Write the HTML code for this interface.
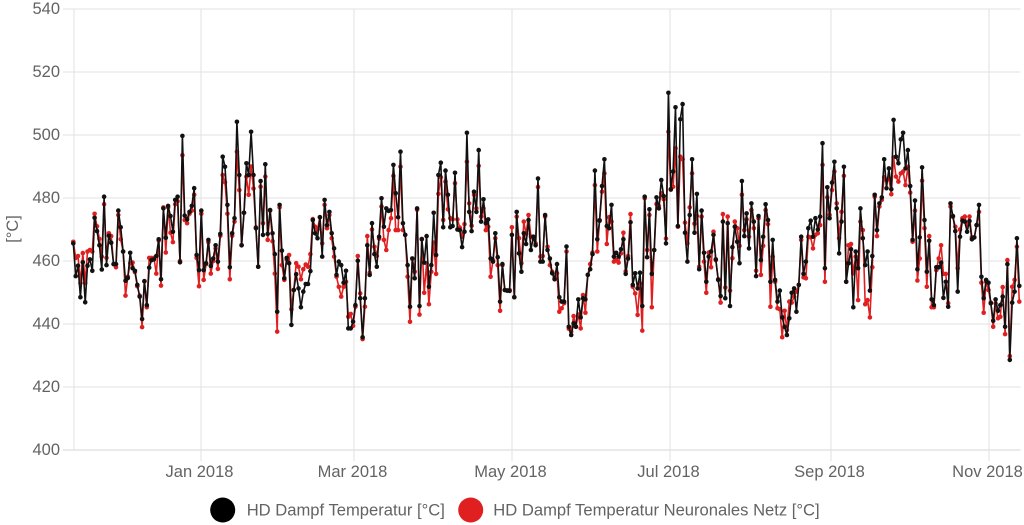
<!DOCTYPE html>
<html><head><meta charset="utf-8">
<style>
html,body{margin:0;padding:0;background:#fff;}
svg{display:block;}
text{font-family:"Liberation Sans",Arial,sans-serif;fill:#636363;}
</style></head>
<body>
<svg id="c" width="1024" height="525" viewBox="0 0 1024 525" xmlns="http://www.w3.org/2000/svg">
<g id="grid" stroke="#e2e2e2" stroke-width="1"></g>
<g id="labels" font-size="16.5"></g>
<text x="13" y="229" font-size="16.4" text-anchor="middle" dominant-baseline="central" transform="rotate(-90 13 229)">[°C]</text>
<g id="series"></g>
<circle cx="222.7" cy="510" r="12.5" fill="#000"/>
<text x="246.7" y="510" font-size="16.6" dominant-baseline="central">HD Dampf Temperatur [°C]</text>
<circle cx="470.7" cy="510" r="12.5" fill="#e02020"/>
<text x="493.3" y="510" font-size="16.6" dominant-baseline="central">HD Dampf Temperatur Neuronales Netz [°C]</text>
</svg>
<script>
var B=[465.6,455.2,458.5,448.5,459.6,446.9,458.5,460.5,456.9,473.7,
469.5,465,457.3,480.4,458.7,468,465.8,459,459,476,
470.7,463,453.7,454.6,462.6,457.7,456.9,452.4,448.7,441.6,
453.6,446,457.9,460.3,460.5,461.6,466.9,454.2,476.7,467.4,
477.5,474.3,469.3,479.4,480.4,459.6,499.7,474.4,473.2,475.6,
477.5,483.1,461.9,457.1,476,457.1,459.3,466.7,458.4,460.8,
465,459.8,468.6,493.1,489.9,477.8,458,468.8,473.6,504.2,
487.3,465,475.3,491,487.3,501,487.3,470.4,458.2,485.4,
468.3,490.7,468.6,476.2,468.8,462.2,443.9,477.8,463.3,454.5,
461,459.3,439.7,450.8,455.8,451.3,445.3,450.3,452.7,452.7,
456.8,473,468.8,467.2,473.9,461.4,479.4,471.4,475.6,468.8,
464,455.6,459.8,458.7,453.1,456.9,438.6,438.6,440.7,446,
460.1,448.2,435.8,448.2,465,455.6,472,462.2,458.2,467.7,
479.9,470.9,476.7,475.9,476.2,490.5,481.5,473.9,494.7,472,
468.3,458.7,445.5,460.8,454.5,476.7,445.7,466.9,459.5,467.9,
451.8,458.7,475.3,461.9,487.3,491.2,470.7,488.7,481,470.7,
471.1,488,470,469.8,464.4,469.3,500.7,475.6,469.5,482,
475.6,495.2,472.5,479.6,472,473.2,460.8,459.8,468.8,461.2,
447.1,459,450.8,450.6,450.5,468.3,448.5,475.6,462.4,456.6,
468.8,465.4,473,463.5,467.7,465,486.2,459.8,459.8,474.6,
463.5,460.8,456.1,454.2,459,448.5,447.1,447.1,464.6,439.1,
436.5,440.2,439.1,447.8,442.1,448.2,447.8,455.6,457.4,462.2,
488.7,466.9,472.8,483.8,492.3,471.1,470.4,477.8,461.4,462.6,
461.4,463.7,466.9,455.9,460.8,472.3,452.4,456.1,451.3,456.3,
445.7,480.4,461.2,476.4,455.9,463.5,480.2,476.7,485.7,480.6,
465.6,513.4,482.8,488.4,508.8,471.1,505,509.8,469,459.8,
474.6,492.3,469,481.3,457.4,476,462.6,453.4,461.4,463,
468.3,460.5,454,448.9,472.5,448.2,472,445.7,464.4,470.9,
466.1,459.3,485.4,467.9,475.1,464,478.3,472.5,455.2,474.3,
460.3,467.7,478,473,453.4,466.7,454,447.1,450.6,442.1,
439.1,436.5,441.8,449.9,451.3,443.9,452.4,467.7,455.9,459.8,
470.4,472.8,467.7,473.6,470,474.1,497.4,457.7,483.4,473.6,
484.9,491.5,476.7,462.4,472.5,489.9,453.4,459.3,463.7,445.3,
463,457.7,476.7,467.2,458.7,463,450.6,461.6,481,469.8,
478.3,480.2,492.3,483.1,489.4,482.8,504.8,493.1,491,498.6,
500.7,489.4,495.2,483.8,466.7,479.2,457.4,467.5,489.7,473,
456.6,466.4,447.8,446,458,458,459.5,448.3,453.4,445.5,
478.3,474.3,469.5,450.3,467.7,472.8,472.5,469.3,472.7,466.9,
467.5,471.4,477.8,455,448.2,454,453.1,446.6,441,447.8,
444.2,446,448.7,439.1,459,428.6,446.8,450.3,467.2,452.1];
var R=[466.1,461,461.6,453,462.5,453,463,463.5,463,475,
471,467,461.4,478,461,468.8,467.9,459,458,474.6,
466.9,463,449,455,459.3,459.5,456.5,452,449,439,
453.6,445.3,461,461,461,456,466.5,452.2,477,462.7,
477,469,466,478,479,460,493.6,473,472,475,
476,481,461,452,475,454,459,466,456,460,
464,457.5,468,487.3,485,475,454.2,468,472.5,494.7,
482.5,465,475.3,486.8,481,490,483,470.7,458.2,483.6,
472,486.8,466.7,476,466.3,456,437.6,477,458.7,454,
460.5,461.9,444.7,450.8,459.3,458.2,454.2,457.4,458.9,458.2,
462.2,473.3,470.9,470,473.9,465.6,477.8,470.4,474.6,467.2,
461.4,455,451.8,448.7,451.8,453.4,442.3,443.2,439.4,445.5,
461.6,449.7,435.2,445.5,467.9,456.3,470,464.5,461.6,467.1,
477.3,466.7,463.5,469.8,473.6,487,469.8,469.8,489.9,469.8,
468.3,455,440.7,460.8,456.6,476.3,443,467,449.9,459.3,
446.3,456.6,465.8,455.9,481.3,486.6,473,485.2,476.4,473.6,
473.2,484.7,473.2,470.6,467.7,471.7,491.5,478.3,471.2,481,
476.7,490.2,474.1,476.7,469.8,470.9,455,460.3,467.2,458.7,
444.2,458.7,450.8,450.6,450.8,470.7,448.5,474.1,467.2,459.3,
472.5,468.5,474.6,467.7,467.2,465.6,483.5,461.4,461.6,474.1,
464.5,458.7,456.6,454.5,456.1,443.9,445,446.6,463,438.5,
437.6,442.5,439.1,443,438.6,449.2,443.6,455.6,459,462.7,
484.1,463,473,482,487.8,465.4,473.9,472.5,459.8,460.3,
459.5,462.4,469,456.7,461.6,474.9,451.8,449.7,442.9,452.9,
437.9,479.9,463.5,474.6,445.3,463.5,478.1,477.5,481.5,479.6,
467.1,501,482.6,483.6,495.8,470.9,493.1,492.3,472.2,465.6,
477,487.8,471.8,474.3,458.2,474.1,459.8,449.9,462.7,458,
469.3,460.3,454.2,446.8,474.9,451.6,474.1,450.6,460.9,472.5,
470.4,464.8,481,469.8,473.2,467.7,476.2,470.4,456.9,473.6,
455.6,464.8,476.2,471.7,445.5,461.4,453.4,445,444.7,435.8,
444.2,438.1,447.1,446.8,448.7,450.3,452.4,466.7,454.8,454.5,
467.7,467.5,464,468.3,468.8,471.4,490.5,453.4,480.2,474.6,
482.5,488.4,478.3,467.2,475.6,487,453.4,465,465.4,456.1,
461.4,447.6,472.5,469.8,446.3,447.6,442.1,458,480.4,467.9,
477.3,479.4,486.6,485.7,486.3,481.2,492.9,486.8,485.2,487.8,
488.4,484.1,489.9,481.7,466.1,476,453.8,460.8,485.5,470.4,
451.8,467.9,445.3,445.3,457.1,460.8,465,455.9,455.9,446.6,
477.3,474,470.9,457.7,470,473.6,474.1,471.4,474.1,467.5,
467.5,471.4,475.6,453.1,443.6,453.4,450.8,446.8,439.1,446.6,
441.8,442.3,451.7,436.8,460.3,429.8,451.8,454,464.5,447.1];
var NS="http://www.w3.org/2000/svg";
function el(tag,attrs,parent){var e=document.createElementNS(NS,tag);for(var k in attrs)e.setAttribute(k,attrs[k]);parent.appendChild(e);return e;}
var grid=document.getElementById('grid'),labels=document.getElementById('labels'),series=document.getElementById('series');
function Y(v){return 9+(540-v)*3.15;}
var n=B.length,x0=73.3,x1=1019.3,dx=(x1-x0)/(n-1);
function X(i){return x0+i*dx;}
for(var k=0;k<=7;k++){
  var yy=9+k*63;
  el('line',{x1:63,y1:yy,x2:1020.5,y2:yy,stroke:(k==7?'#d6d6d6':'#e2e2e2')},grid);
  var t=el('text',{x:60,y:yy,'text-anchor':'end','dominant-baseline':'central'},labels);
  t.textContent=String(540-k*20);
}
el('line',{x1:74,y1:9,x2:74,y2:450},grid);
var xs=[201,354,512,670,831,989],xl=['Jan 2018','Mar 2018','May 2018','Jul 2018','Sep 2018','Nov 2018'];
for(var j=0;j<xs.length;j++){
  el('line',{x1:xs[j],y1:9,x2:xs[j],y2:461},grid);
  var t2=el('text',{x:xs[j]-1.5,y:472,'text-anchor':'middle','dominant-baseline':'central'},labels);
  t2.textContent=xl[j];
}
function draw(arr,color,w,r){
  var pts=[];
  for(var i=0;i<arr.length;i++)pts.push(X(i).toFixed(1)+','+Y(arr[i]).toFixed(1));
  el('polyline',{points:pts.join(' '),fill:'none',stroke:color,'stroke-width':w,'stroke-linejoin':'round'},series);
  var g=el('g',{fill:color},series);
  for(var i=0;i<arr.length;i++)el('circle',{cx:X(i).toFixed(1),cy:Y(arr[i]).toFixed(1),r:r},g);
}
draw(R,'#e02020',1.6,2.3);
draw(B,'#111',1.6,2.3);
</script>
</body></html>
